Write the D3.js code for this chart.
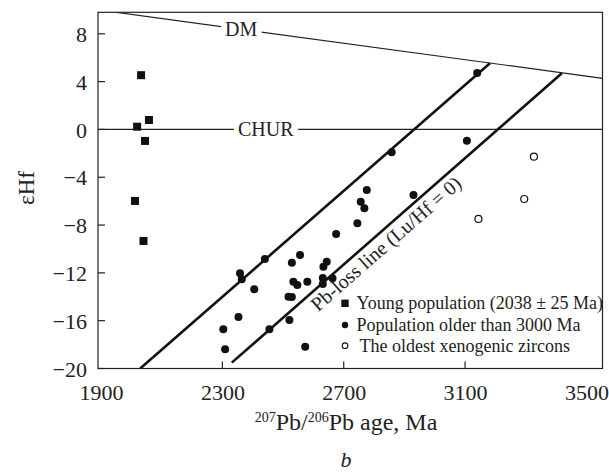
<!DOCTYPE html>
<html><head><meta charset="utf-8">
<script src="https://cdn.jsdelivr.net/npm/d3@7"></script>
<style>body{margin:0;background:#fff}svg{display:block}svg text{font-family:'Liberation Serif','Times New Roman',serif !important}</style>
</head><body>
<svg id="c" width="609" height="473"></svg>
<script>
// ---- data ----
const xTicks = [1900, 2300, 2700, 3100, 3500];
const xTickMarks = [2300, 2700, 3100];
const yTicks = [8, 4, 0, -4, -8, -12, -16, -20];

const youngAge = [2032, 2019, 2058, 2045, 2012, 2040];
const youngHf  = [4.54, 0.23, 0.79, -0.96, -5.98, -9.33];

const olderAge = [2303, 2309, 2353, 2358, 2364, 2405, 2440, 2455, 2518, 2529, 2521, 2529, 2534, 2547, 2556, 2573, 2580, 2631, 2631, 2633, 2644, 2663, 2675, 2745, 2756, 2768, 2776, 2858, 2930, 3106, 3140];
const olderHf  = [-16.72, -18.39, -15.69, -12.03, -12.54, -13.37, -10.84, -16.72, -13.99, -14.02, -15.94, -11.15, -12.74, -13.01, -10.50, -18.18, -12.74, -12.43, -12.93, -11.48, -11.06, -12.45, -8.74, -7.85, -6.04, -6.59, -5.06, -1.91, -5.48, -0.94, 4.73];

const oldestAge = [3327, 3295, 3144];
const oldestHf  = [-2.28, -5.82, -7.49];

const dmLine = [[1946, 9.81], [3553, 4.28]];
const churLine = [[1890, 0], [3553, 0]];
const pbLine1 = [[2029, -20], [3182, 5.54]];
const pbLine2 = [[2331, -19.51], [3419, 4.70]];

const legendLabels = ["Young population (2038 \u00B1 25 Ma)", "Population older than 3000 Ma", "The oldest xenogenic zircons"];

// ---- layout ----
const W = 609, H = 473;
const m = {left: 98, top: 12.3, right: 6.5, bottom: 104.5};
const FONT = "'Liberation Serif','Times New Roman',serif";
const svg = d3.select("#c").attr("font-family", FONT);
const x = d3.scaleLinear().domain([1890, 3553]).range([m.left, W - m.right]);
const y = d3.scaleLinear().domain([-20, 9.8]).range([H - m.bottom, m.top]);

svg.append("defs").append("clipPath").attr("id", "pc")
  .append("rect").attr("x", m.left).attr("y", m.top)
  .attr("width", W - m.left - m.right).attr("height", H - m.top - m.bottom);

const line = d3.line().x(d => x(d[0])).y(d => y(d[1]));
const g = svg.append("g").attr("clip-path", "url(#pc)");

g.append("path").attr("d", line(dmLine)).attr("fill", "none").attr("stroke", "#222").attr("stroke-width", 1.2);
g.append("path").attr("d", line(churLine)).attr("fill", "none").attr("stroke", "#222").attr("stroke-width", 1.2);
[pbLine1, pbLine2].forEach(l => g.append("path").attr("d", line(l)).attr("fill", "none").attr("stroke", "#111").attr("stroke-width", 2.6));

// labels on lines with white backgrounds
function bgLabel(txt, px, py, size) {
  const t = svg.append("text").attr("x", px).attr("y", py).attr("text-anchor", "middle")
    .attr("font-size", size).attr("fill", "#222").text(txt);
  const bb = t.node().getBBox();
  svg.insert("rect", () => t.node()).attr("x", bb.x - 4).attr("y", bb.y + 3)
    .attr("width", bb.width + 8).attr("height", bb.height - 6).attr("fill", "#fff");
}
const dmAge = 2362;
const dmY = dmLine[0][1] + (dmAge - dmLine[0][0]) * (dmLine[1][1] - dmLine[0][1]) / (dmLine[1][0] - dmLine[0][0]);
bgLabel("DM", x(dmAge), y(dmY) + 6.5, 20);
bgLabel("CHUR", x(2443), y(0) + 7, 20);

// Pb-loss label along line 2
{
  const p0 = [x(pbLine2[0][0]), y(pbLine2[0][1])], p1 = [x(pbLine2[1][0]), y(pbLine2[1][1])];
  const ang = Math.atan2(p1[1] - p0[1], p1[0] - p0[0]) * 180 / Math.PI;
  const a = 2574;
  const fy = pbLine2[0][1] + (a - pbLine2[0][0]) * (pbLine2[1][1] - pbLine2[0][1]) / (pbLine2[1][0] - pbLine2[0][0]);
  svg.append("text").attr("transform", `translate(${x(a)},${y(fy)}) rotate(${ang})`)
    .attr("y", 19).attr("font-size", 20).attr("fill", "#222").text("Pb-loss line (Lu/Hf = 0)");
}

// points
const young = youngAge.map((a, i) => [a, youngHf[i]]);
const older = olderAge.map((a, i) => [a, olderHf[i]]);
const oldest = oldestAge.map((a, i) => [a, oldestHf[i]]);
svg.append("g").selectAll("rect").data(young).join("rect")
  .attr("x", d => x(d[0]) - 4).attr("y", d => y(d[1]) - 4).attr("width", 8).attr("height", 8).attr("fill", "#111");
svg.append("g").selectAll("circle").data(older).join("circle")
  .attr("cx", d => x(d[0])).attr("cy", d => y(d[1])).attr("r", 4).attr("fill", "#111");
svg.append("g").selectAll("circle").data(oldest).join("circle")
  .attr("cx", d => x(d[0])).attr("cy", d => y(d[1])).attr("r", 3.5).attr("fill", "#fff").attr("stroke", "#111").attr("stroke-width", 1.2);

// frame
svg.append("rect").attr("x", m.left).attr("y", m.top).attr("width", W - m.left - m.right)
  .attr("height", H - m.top - m.bottom).attr("fill", "none").attr("stroke", "#222").attr("stroke-width", 1.2);

// axes
const xAxis = d3.axisBottom(x).tickValues(xTicks).tickSize(0).tickPadding(0).tickFormat(d3.format("d"));
const xg = svg.append("g").attr("transform", `translate(0,${H - m.bottom})`).call(xAxis);
xg.attr("font-family", FONT);
xg.select(".domain").remove();
xg.selectAll("text").attr("font-size", 22).attr("fill", "#222").attr("dy", 0).attr("y", 31);
svg.append("g").selectAll("line").data(xTickMarks).join("line")
  .attr("x1", d => x(d)).attr("x2", d => x(d)).attr("y1", H - m.bottom).attr("y2", H - m.bottom - 7)
  .attr("stroke", "#222").attr("stroke-width", 1.2);

const yAxis = d3.axisLeft(y).tickValues(yTicks).tickSize(0).tickPadding(11)
  .tickFormat(d => d < 0 ? "\u2212" + Math.abs(d) : String(d));
const yg = svg.append("g").attr("transform", `translate(${m.left},0)`).call(yAxis);
yg.attr("font-family", FONT);
yg.select(".domain").remove();
yg.selectAll("text").attr("font-size", 22).attr("fill", "#222").attr("dy", "0.35em");
svg.append("g").selectAll("line").data(yTicks).join("line")
  .attr("x1", m.left).attr("x2", m.left + 7).attr("y1", d => y(d)).attr("y2", d => y(d))
  .attr("stroke", "#222").attr("stroke-width", 1.2);

// axis titles
const xt = svg.append("text").attr("x", 346).attr("y", 430).attr("text-anchor", "middle")
  .attr("font-size", 24).attr("fill", "#222");
xt.append("tspan").attr("font-size", 14).attr("dy", -8).text("207");
xt.append("tspan").attr("dy", 8).text("Pb/");
xt.append("tspan").attr("font-size", 14).attr("dy", -8).text("206");
xt.append("tspan").attr("dy", 8).text("Pb age, Ma");

svg.append("text").attr("x", 346).attr("y", 467).attr("text-anchor", "middle")
  .attr("font-size", 22).attr("font-style", "italic").attr("fill", "#222").text("b");

svg.append("text").attr("transform", "translate(34,188) rotate(-90)").attr("text-anchor", "middle")
  .attr("font-size", 23).attr("fill", "#222").text("\u03B5Hf");

// legend
const lg = svg.append("g");
const rowY = [303.3, 325, 345.7];
lg.append("rect").attr("x", 345 - 3.7).attr("y", rowY[0] - 3.7).attr("width", 7.4).attr("height", 7.4).attr("fill", "#111");
lg.append("circle").attr("cx", 345).attr("cy", rowY[1]).attr("r", 3.2).attr("fill", "#111");
lg.append("circle").attr("cx", 345).attr("cy", rowY[2]).attr("r", 2.8).attr("fill", "#fff").attr("stroke", "#111").attr("stroke-width", 1.1);
lg.selectAll("text").data(legendLabels).join("text")
  .attr("x", (d, i) => i === 2 ? 359.5 : 356.5).attr("y", (d, i) => rowY[i] + 6)
  .attr("font-size", 18).attr("fill", "#222").text(d => d);
</script>
</body></html>
